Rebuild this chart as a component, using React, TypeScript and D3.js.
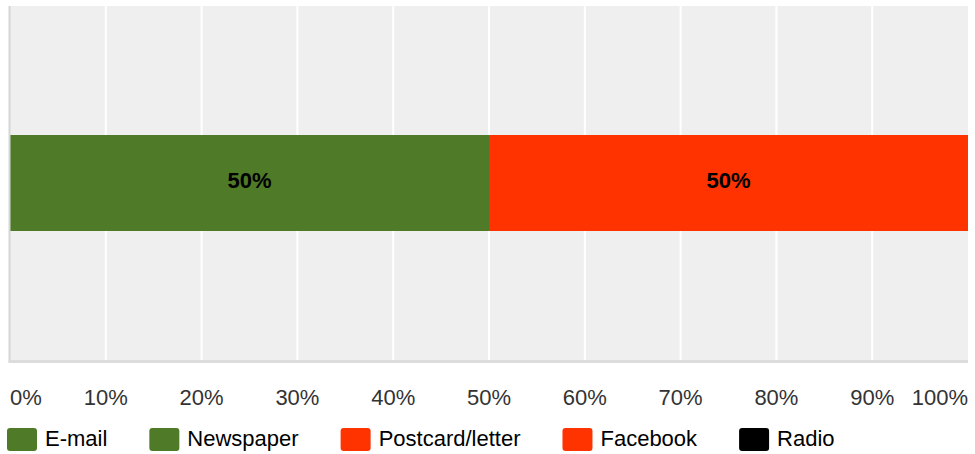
import React, { useEffect, useRef } from "react";
import * as d3 from "d3";

const categories = ["Row 1"];
const seriesNames = ["E-mail", "Newspaper", "Postcard/letter", "Facebook", "Radio"];
const seriesColors = ["#4f7a28", "#4f7a28", "#ff3300", "#ff3300", "#000000"];
const seriesValues = [[50], [0], [50], [0], [0]];
const xTicks = [0, 10, 20, 30, 40, 50, 60, 70, 80, 90, 100];

const W = 975;
const H = 454;
const M = { left: 10, right: 7, top: 6, bottom: 94 };

export default function App() {
  const ref = useRef<SVGSVGElement>(null);

  useEffect(() => {
    const svg = d3.select(ref.current);
    svg.selectAll("*").remove();
    const font = "'Liberation Sans', Arial, sans-serif";

    const x = d3.scaleLinear().domain([0, 100]).range([M.left, W - M.right]);
    const y = d3.scaleBand().domain(categories).range([M.top, H - M.bottom]).paddingInner(0.3).paddingOuter(0.7);

    svg.append("rect")
      .attr("x", M.left).attr("y", M.top)
      .attr("width", x(100) - x(0)).attr("height", H - M.bottom - M.top)
      .attr("fill", "#efefef");

    svg.append("g").selectAll("line").data(xTicks.slice(1, -1)).join("line")
      .attr("x1", (d) => x(d)).attr("x2", (d) => x(d))
      .attr("y1", M.top).attr("y2", H - M.bottom)
      .attr("stroke", "#ffffff").attr("stroke-width", 2);

    // stacked
    const rows = categories.map((c, i) => {
      const r: any = { cat: c };
      seriesNames.forEach((s, j) => (r[s] = seriesValues[j][i]));
      return r;
    });
    const stack = d3.stack<any>().keys(seriesNames)(rows);
    const bh = 96;
    stack.forEach((layer, j) => {
      layer.forEach((seg: any) => {
        const v = seg[1] - seg[0];
        if (v <= 0) return;
        const cy = (y(seg.data.cat) as number) + y.bandwidth() / 2;
        svg.append("rect")
          .attr("x", x(seg[0])).attr("y", cy - bh / 2)
          .attr("width", x(seg[1]) - x(seg[0])).attr("height", bh)
          .attr("fill", seriesColors[j]);
        svg.append("text")
          .attr("x", (x(seg[0]) + x(seg[1])) / 2).attr("y", cy + 5)
          .attr("text-anchor", "middle")
          .attr("font-family", font).attr("font-weight", "bold").attr("font-size", 22)
          .attr("fill", "#000").text(`${v}%`);
      });
    });

    // axes borders
    svg.append("line").attr("x1", 9.5).attr("x2", 9.5).attr("y1", M.top).attr("y2", H - M.bottom + 2)
      .attr("stroke", "#d6d6d6").attr("stroke-width", 2);
    svg.append("line").attr("x1", 8.5).attr("x2", x(100)).attr("y1", H - M.bottom + 1.5).attr("y2", H - M.bottom + 1.5)
      .attr("stroke", "#dcdcdc").attr("stroke-width", 3);

    // tick labels
    svg.append("g").selectAll("text").data(xTicks).join("text")
      .attr("x", (d) => x(d))
      .attr("y", 405)
      .attr("text-anchor", (d, i) => (i === 0 ? "start" : i === xTicks.length - 1 ? "end" : "middle"))
      .attr("font-family", font).attr("font-size", 22).attr("fill", "#333")
      .text((d) => `${d}%`);

    // legend
    const lg = svg.append("g");
    let lx = 7;
    seriesNames.forEach((s, j) => {
      lg.append("rect").attr("x", lx).attr("y", 428).attr("width", 30).attr("height", 23)
        .attr("rx", 3).attr("fill", seriesColors[j]);
      const t = lg.append("text").attr("x", lx + 38).attr("y", 446)
        .attr("font-family", font).attr("font-size", 22).attr("fill", "#000").text(s);
      const w = (t.node() as SVGTextElement).getComputedTextLength();
      lx += 38 + w + 42;
    });
  }, []);

  return (
    <svg ref={ref} width={W} height={H} style={{ position: "absolute", left: 0, top: 0 }} />
  );
}
